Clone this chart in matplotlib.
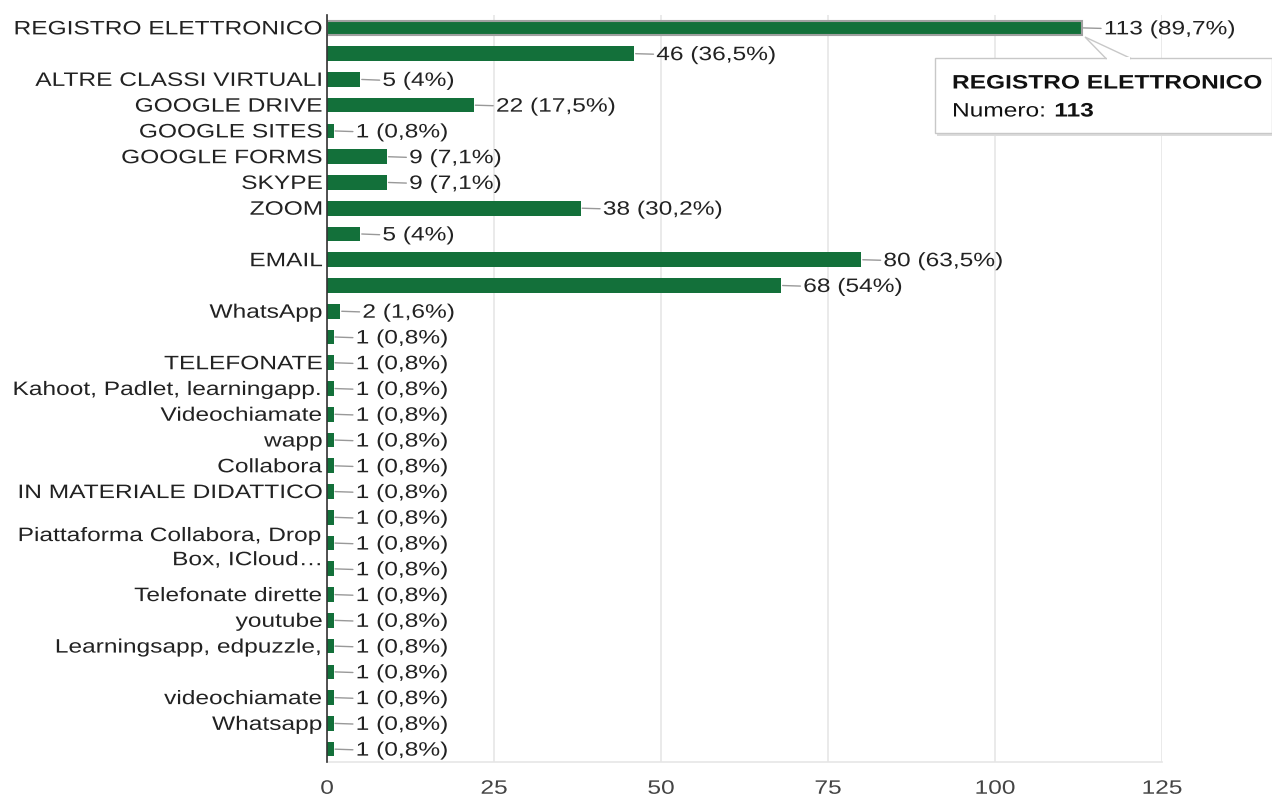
import matplotlib
matplotlib.use("Agg")
import matplotlib.pyplot as plt
from matplotlib.patches import Polygon, Rectangle
from matplotlib.patheffects import AbstractPathEffect
from matplotlib.transforms import Affine2D

plt.rcParams['font.family'] = ['Liberation Sans', 'DejaVu Sans']

categories = [
    "REGISTRO ELETTRONICO", "", "ALTRE CLASSI VIRTUALI", "GOOGLE DRIVE",
    "GOOGLE SITES", "GOOGLE FORMS", "SKYPE", "ZOOM", "", "EMAIL", "",
    "WhatsApp", "", "TELEFONATE", "Kahoot, Padlet, learningapp.",
    "Videochiamate", "wapp", "Collabora", "IN MATERIALE DIDATTICO", "",
    "Piattaforma Collabora, Drop\nBox, ICloud…", "", "Telefonate dirette",
    "youtube", "Learningsapp, edpuzzle,", "", "videochiamate", "Whatsapp", "",
]
counts = [113, 46, 5, 22, 1, 9, 9, 38, 5, 80, 68, 2, 1, 1, 1, 1, 1, 1, 1,
          1, 1, 1, 1, 1, 1, 1, 1, 1, 1]
percents = ["89,7%", "36,5%", "4%", "17,5%", "0,8%", "7,1%", "7,1%", "30,2%",
            "4%", "63,5%", "54%", "1,6%", "0,8%", "0,8%", "0,8%", "0,8%",
            "0,8%", "0,8%", "0,8%", "0,8%", "0,8%", "0,8%", "0,8%", "0,8%",
            "0,8%", "0,8%", "0,8%", "0,8%", "0,8%"]
xticks = [0, 25, 50, 75, 100, 125]


class Stretch(AbstractPathEffect):
    """Widen glyphs horizontally about a left / right / center anchor."""
    def __init__(self, sx, anchor="left"):
        super().__init__()
        self.sx = sx
        self.anchor = anchor

    def draw_path(self, renderer, gc, tpath, affine, rgbFace=None):
        verts = affine.transform(tpath.vertices)
        if len(verts) == 0:
            return
        x0, x1 = verts[:, 0].min(), verts[:, 0].max()
        if self.anchor == "left":
            a = x0
        elif self.anchor == "right":
            a = x1
        else:
            a = 0.5 * (x0 + x1)
        new = affine + Affine2D().translate(-a, 0).scale(self.sx, 1).translate(a, 0)
        renderer.draw_path(gc, tpath, new, rgbFace)


SX = 1.26
W, H = 1272, 797
fig = plt.figure(figsize=(W / 100, H / 100), dpi=100)
left, right, top, bottom = 327, 1162, 15, 762
ax = fig.add_axes([left / W, 1 - bottom / H, (right - left) / W, (bottom - top) / H])

bar_color = "#13703a"
n = len(counts)
ypos = list(range(n))
bars = ax.barh(ypos, counts, height=0.57, color=bar_color, zorder=3)
bars[0].set_edgecolor("#a0a0a0")
bars[0].set_linewidth(1.5)

ax.set_xlim(0, 125)
ax.set_ylim(n - 0.5, -0.5)
ax.set_xticks(xticks)
ax.set_xticklabels([str(t) for t in xticks])
ax.set_yticks(ypos)
ax.set_yticklabels(categories, linespacing=1.55)
ax.tick_params(axis='y', length=0, pad=3, labelsize=14, labelcolor="#222222")
ax.tick_params(axis='x', length=0, pad=13.5, labelsize=14, labelcolor="#444444")
for lab in ax.get_yticklabels():
    lab.set_path_effects([Stretch(SX, "right")])
    lab.set_verticalalignment("center_baseline")
for lab in ax.get_xticklabels():
    lab.set_path_effects([Stretch(SX, "center")])
ax.grid(axis='x', color="#e6e6e6", linewidth=1.2, zorder=0)
for s in ["top", "right"]:
    ax.spines[s].set_visible(False)
ax.spines["bottom"].set_color("#e6e6e6")
ax.spines["bottom"].set_linewidth(1.2)
ax.spines["left"].set_color("#333333")
ax.spines["left"].set_linewidth(1.2)
ax.spines["left"].set_zorder(4)

for i, (c, p) in enumerate(zip(counts, percents)):
    t = ax.annotate(f"{c} ({p})", xy=(c, i), xytext=(22, 0), textcoords="offset pixels",
                    ha="left", va="center_baseline", fontsize=14, color="#222222",
                    arrowprops=dict(arrowstyle="-", color="#999999", lw=1,
                                    shrinkA=0, shrinkB=1),
                    annotation_clip=False, zorder=5)
    t.set_path_effects([Stretch(SX, "left")])

# tooltip
def fx(x):
    return x / W
def fy(y):
    return 1 - y / H

shadow = Rectangle((fx(937), fy(136)), fx(1272) - fx(937), fy(62) - fy(136),
                   transform=fig.transFigure, fc="#dcdcdc", ec="none", zorder=9)
fig.add_artist(shadow)
box = Rectangle((fx(935), fy(133)), fx(1272) - fx(935), fy(58) - fy(133),
                transform=fig.transFigure, fc="white", ec="#c8c8c8", lw=1, zorder=10)
fig.add_artist(box)
tri = Polygon([(fx(1085), fy(37)), (fx(1106), fy(58.5)), (fx(1131), fy(58.5))],
              closed=True, transform=fig.transFigure, fc="white", ec="#c8c8c8",
              lw=1, zorder=11)
fig.add_artist(tri)
cover = Rectangle((fx(1107), fy(60)), fx(1130) - fx(1107), fy(57) - fy(60),
                  transform=fig.transFigure, fc="white", ec="none", zorder=12)
fig.add_artist(cover)
tt = fig.text(fx(952), fy(82), "REGISTRO ELETTRONICO", fontsize=14, fontweight="bold",
              color="#111111", va="center_baseline", ha="left", zorder=13)
tt.set_path_effects([Stretch(SX, "left")])
t1 = fig.text(fx(952), fy(110), "Numero: ", fontsize=14, color="#111111",
              va="center_baseline", ha="left", zorder=13)
t1.set_path_effects([Stretch(SX, "left")])
fig.canvas.draw()
bb = t1.get_window_extent()
x_end = bb.x0 + (bb.x1 - bb.x0) * SX + 1
t2 = fig.text(x_end / W, fy(110), "113", fontsize=14, fontweight="bold",
              color="#111111", va="center_baseline", ha="left", zorder=13)
t2.set_path_effects([Stretch(SX, "left")])

fig.savefig("out.png", dpi=100)
